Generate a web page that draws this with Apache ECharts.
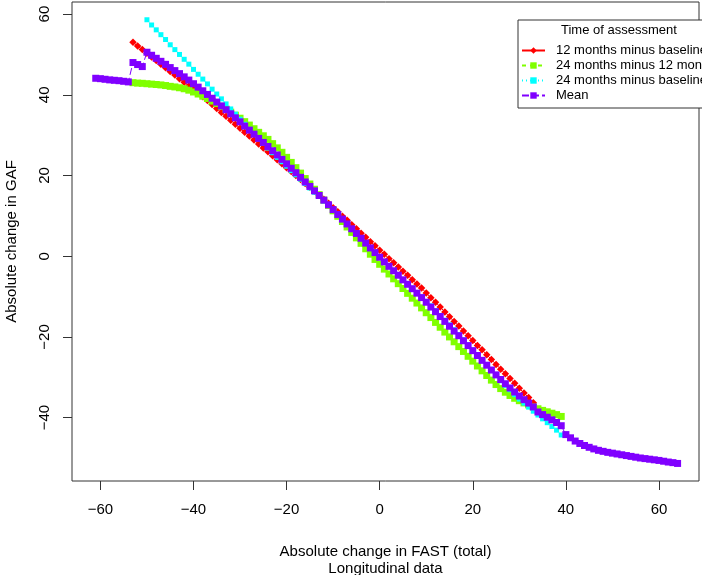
<!DOCTYPE html>
<html><head><meta charset="utf-8">
<script src="https://cdn.jsdelivr.net/npm/echarts@6/dist/echarts.min.js"></script>
<style>html,body{margin:0;padding:0;background:#fff}#c{width:702px;height:575px}</style>
</head><body><div id="c"></div>
<script>
const xTicks = [-60, -40, -20, 0, 20, 40, 60];
const yTicks = [-40, -20, 0, 20, 40, 60];
const seriesNames = ['12 months minus baseline', '24 months minus 12 months', '24 months minus baseline', 'Mean'];
const legendTitle = 'Time of assessment';

const redX = [-53,-52,-51,-50,-49,-48,-47,-46,-45,-44,-43,-42,-41,-40,-39,-38,-37,-36,-35,-34,-33,-32,-31,-30,-29,-28,-27,-26,-25,-24,-23,-22,-21,-20,-19,-18,-17,-16,-15,-14,-13,-12,-11,-10,-9,-8,-7,-6,-5,-4,-3,-2,-1,0,1,2,3,4,5,6,7,8,9,10,11,12,13,14,15,16,17,18,19,20,21,22,23,24,25,26,27,28,29,30,31,32,33];
const redY = [53.0,52.1,51.2,50.3,49.4,48.5,47.6,46.7,45.8,44.9,44.0,43.1,42.2,41.3,40.4,39.5,38.6,37.6,36.6,35.6,34.7,33.7,32.7,31.7,30.7,29.8,28.8,27.8,26.8,25.9,24.9,23.9,22.9,21.9,21.0,20.0,19.0,18.0,17.1,16.1,15.1,14.1,13.1,12.0,11.0,9.9,8.9,7.8,6.8,5.7,4.7,3.6,2.6,1.5,0.5,-0.6,-1.6,-2.7,-3.7,-4.7,-5.8,-6.9,-7.9,-9.1,-10.3,-11.4,-12.6,-13.8,-15.0,-16.2,-17.3,-18.5,-19.7,-20.9,-22.1,-23.2,-24.4,-25.6,-26.8,-28.0,-29.1,-30.3,-31.5,-32.7,-33.9,-35.0,-36.3];

const greenX = [-53,-52,-51,-50,-49,-48,-47,-46,-45,-44,-43,-42,-41,-40,-39,-38,-37,-36,-35,-34,-33,-32,-31,-30,-29,-28,-27,-26,-25,-24,-23,-22,-21,-20,-19,-18,-17,-16,-15,-14,-13,-12,-11,-10,-9,-8,-7,-6,-5,-4,-3,-2,-1,0,1,2,3,4,5,6,7,8,9,10,11,12,13,14,15,16,17,18,19,20,21,22,23,24,25,26,27,28,29,30,31,32,33,34,35,36,37,38,39];
const greenY = [43.0,42.9,42.85,42.75,42.65,42.55,42.45,42.3,42.1,41.95,41.75,41.5,41.15,40.7,40.2,39.65,39.1,38.45,37.85,37.15,36.45,35.7,34.95,34.2,33.35,32.5,31.6,30.7,29.85,28.95,27.9,26.85,25.75,24.5,23.25,21.95,20.6,19.25,17.9,16.6,15.25,13.9,12.6,11.25,9.9,8.6,7.25,5.9,4.55,3.2,1.85,0.5,-0.8,-2.0,-3.2,-4.4,-5.6,-6.8,-8.0,-9.2,-10.4,-11.6,-12.8,-14.0,-15.2,-16.4,-17.6,-18.8,-20.0,-21.2,-22.4,-23.6,-24.8,-26.0,-27.2,-28.4,-29.55,-30.7,-31.8,-32.8,-33.7,-34.5,-35.2,-35.8,-36.35,-36.85,-37.35,-37.8,-38.2,-38.55,-38.9,-39.25,-39.7];

const cyanX = [-50,-49,-48,-47,-46,-45,-44,-43,-42,-41,-40,-39,-38,-37,-36,-35,-34,-33,-32,-31,-30,-29,-28,-27,-26,-25,-24,-23,-22,-21,-20,-19,-18,-17,-16,-15,-14,-13,-12,-11,-10,-9,-8,-7,-6,-5,-4,-3,-2,-1,0,1,2,3,4,5,6,7,8,9,10,11,12,13,14,15,16,17,18,19,20,21,22,23,24,25,26,27,28,29,30,31,32,33,34,35,36,37,38,39];
const cyanY = [58.6,57.3,56.1,54.9,53.7,52.4,51.2,50.0,48.8,47.6,46.3,45.1,43.9,42.7,41.4,40.2,39.0,37.75,36.5,35.2,33.95,32.7,31.45,30.3,29.1,27.95,26.8,25.65,24.5,23.4,22.3,21.2,20.15,19.1,18.0,16.9,15.85,14.8,13.7,12.6,11.4,10.25,9.1,7.9,6.75,5.6,4.4,3.2,2.05,0.9,-0.3,-1.45,-2.55,-3.6,-4.7,-5.8,-6.85,-7.95,-9.0,-10.1,-11.2,-12.3,-13.5,-14.7,-15.85,-17.0,-18.2,-19.4,-20.7,-21.95,-23.25,-24.5,-25.8,-27.05,-28.3,-29.6,-30.85,-32.0,-33.1,-34.3,-35.4,-36.4,-37.4,-38.4,-39.35,-40.3,-41.25,-42.2,-43.1,-44.3];

const meanX = [-61,-60,-59,-58,-57,-56,-55,-54,-53,-52,-51,-50,-49,-48,-47,-46,-45,-44,-43,-42,-41,-40,-39,-38,-37,-36,-35,-34,-33,-32,-31,-30,-29,-28,-27,-26,-25,-24,-23,-22,-21,-20,-19,-18,-17,-16,-15,-14,-13,-12,-11,-10,-9,-8,-7,-6,-5,-4,-3,-2,-1,0,1,2,3,4,5,6,7,8,9,10,11,12,13,14,15,16,17,18,19,20,21,22,23,24,25,26,27,28,29,30,31,32,33,34,35,36,37,38,39,40,41,42,43,44,45,46,47,48,49,50,51,52,53,54,55,56,57,58,59,60,61,62,63,64];
const meanY = [44.1,44.0,43.85,43.7,43.6,43.5,43.35,43.2,48.0,47.5,47.0,50.55,49.8,49.05,48.3,47.55,46.75,46.0,45.25,44.45,43.65,42.75,41.9,41.0,40.1,39.15,38.2,37.25,36.3,35.3,34.3,33.3,32.25,31.25,30.25,29.2,28.2,27.2,26.15,25.1,24.0,22.9,21.8,20.7,19.55,18.4,17.3,16.2,15.05,13.9,12.75,11.55,10.35,9.2,8.0,6.8,5.65,4.45,3.25,2.05,0.9,-0.25,-1.4,-2.5,-3.6,-4.7,-5.85,-6.95,-8.05,-9.15,-10.25,-11.4,-12.6,-13.75,-14.95,-16.15,-17.35,-18.55,-19.7,-20.95,-22.15,-23.4,-24.6,-25.8,-27.0,-28.2,-29.4,-30.55,-31.6,-32.65,-33.65,-34.65,-35.55,-36.4,-37.35,-38.6,-39.25,-39.9,-40.55,-41.2,-42.0,-44.2,-45.0,-45.8,-46.4,-46.9,-47.35,-47.75,-48.1,-48.35,-48.6,-48.8,-49.0,-49.2,-49.4,-49.6,-49.8,-50.0,-50.15,-50.3,-50.45,-50.6,-50.8,-51.0,-51.15,-51.35];

function pairs(xs, ys) { return xs.map(function (x, i) { return [x, ys[i]]; }); }
const FONT = '"Liberation Sans", Arial, Helvetica, sans-serif';
function fmt(v) { return String(v).replace('-', '\u2212'); }

const chart = echarts.init(document.getElementById('c'), null, { renderer: 'canvas' });
const styles = [
  { symbol: 'diamond', size: 7.5, color: '#FF0000', dash: 'solid' },
  { symbol: 'rect', size: 7, color: '#80FF00', dash: [4, 4] },
  { symbol: 'rect', size: 5, color: '#00FFFF', dash: [1, 3] },
  { symbol: 'rect', size: 7, color: '#8000FF', dash: [7, 3] }
];
const datas = [pairs(redX, redY), pairs(greenX, greenY), pairs(cyanX, cyanY), pairs(meanX, meanY)];

chart.setOption({
  animation: false,
  backgroundColor: '#fff',
  grid: { left: 72, right: 3, top: 2, bottom: 94, outerBoundsMode: 'none', containLabel: false,
          show: true, borderColor: '#333', borderWidth: 1, backgroundColor: 'transparent' },
  xAxis: {
    type: 'value', min: -66.1, max: 68.6,
    axisLine: { show: false, onZero: false }, splitLine: { show: false },
    axisTick: { show: true, length: 9, customValues: xTicks, lineStyle: { color: '#333' } },
    axisLabel: { customValues: xTicks, formatter: fmt, margin: 21, fontSize: 15, color: '#000', fontFamily: FONT },
    name: 'Absolute change in FAST (total)\nLongitudinal data', nameLocation: 'middle', nameGap: 62,
    nameTextStyle: { fontSize: 15, lineHeight: 17, color: '#000', fontFamily: FONT }
  },
  yAxis: {
    type: 'value', min: -55.7, max: 63.0,
    axisLine: { show: false, onZero: false }, splitLine: { show: false },
    axisTick: { show: true, length: 9, customValues: yTicks, lineStyle: { color: '#333' } },
    axisLabel: { customValues: yTicks, formatter: fmt, rotate: 90, margin: 20, fontSize: 15, color: '#000', fontFamily: FONT },
    name: 'Absolute change in GAF', nameLocation: 'middle', nameGap: 53, nameRotate: 90,
    nameTextStyle: { fontSize: 15, color: '#000', fontFamily: FONT }
  },
  legend: {
    orient: 'vertical', left: 518, top: 20, padding: [24, 60, 6, 3],
    itemWidth: 23, itemHeight: 8, itemGap: 2,
    borderColor: '#333', borderWidth: 1, backgroundColor: '#fff',
    textStyle: { fontSize: 13, lineHeight: 13, color: '#000', fontFamily: FONT, padding: [0, 0, 0, 6] },
    data: seriesNames
  },
  graphic: [{
    type: 'text', left: 561, top: 24, z: 100,
    style: { text: legendTitle, font: '13px ' + FONT, fill: '#000' }
  }],
  series: seriesNames.map(function (n, i) {
    const s = styles[i];
    return {
      name: n, type: 'line', data: datas[i], showAllSymbol: true,
      symbol: s.symbol, symbolSize: s.size,
      itemStyle: { color: s.color },
      lineStyle: { color: s.color, width: 1, type: s.dash },
      emphasis: { disabled: true }, z: 2 + i
    };
  })
});
</script></body></html>
